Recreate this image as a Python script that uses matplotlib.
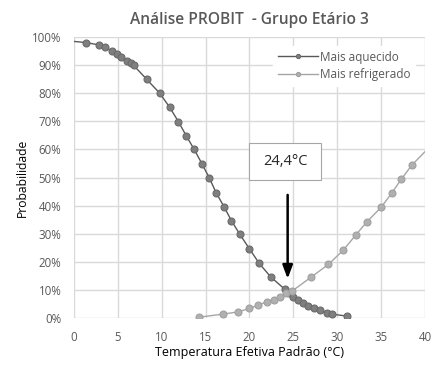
import matplotlib
matplotlib.use("Agg")
import matplotlib.pyplot as plt
from matplotlib.patches import Rectangle
from matplotlib.ticker import PercentFormatter

plt.rcParams['font.family'] = ['Open Sans', 'DejaVu Sans']

title = "Análise PROBIT  - Grupo Etário 3"
xlabel = "Temperatura Efetiva Padrão (°C)"
ylabel = "Probabilidade"
series_names = ["Mais aquecido", "Mais refrigerado"]

aq_x = [-1, 1.4, 2.8, 3.5, 4.3, 4.9, 5.4, 6.0, 6.5, 6.8, 8.3, 9.8, 10.9, 11.9, 12.8,
        13.7, 14.6, 15.4, 16.2, 17.1, 17.95, 18.9, 20.0, 21.1, 22.4, 24.0, 24.5,
        25.0, 25.5, 26.1, 26.7, 27.3, 28.0, 28.8, 29.4, 31.1]
aq_y = [98.7, 98.0, 97.2, 96.3, 95.1, 94.0, 92.8, 91.6, 90.6, 89.9, 84.9, 79.9, 75.0,
        69.9, 64.8, 60.0, 54.8, 50.0, 44.6, 39.6, 34.6, 29.8, 24.6, 19.5, 14.7, 10.3,
        8.8, 7.6, 6.6, 5.4, 4.4, 3.5, 2.7, 1.9, 1.4, 0.7]

rf_x = [14.2, 17.0, 18.7, 20.0, 21.0, 22.0, 22.8, 23.5, 24.2, 24.9, 27.0, 29.0, 30.7,
        32.1, 33.4, 35.0, 36.2, 37.3, 38.5, 41.5]
rf_y = [0.3, 1.4, 2.2, 3.4, 4.6, 5.8, 6.6, 7.6, 8.8, 9.7, 14.5, 19.1, 24.2, 29.5,
        34.3, 39.4, 44.4, 49.4, 54.4, 64.0]

annot_text = "24,4°C"
annot_x = 24.4

fig = plt.figure(figsize=(4.35, 3.66), dpi=100)
ax = fig.add_axes([0.170, 0.131, 0.807, 0.768])

ax.plot(aq_x, aq_y, '-o', color='#595959', lw=1.0, ms=5,
        mfc='#7f7f7f', mec='#6a6a6a', mew=0.8, label=series_names[0], zorder=3)
ax.plot(rf_x, rf_y, '-o', color='#a6a6a6', lw=1.0, ms=5,
        mfc='#b0b0b0', mec='#a0a0a0', mew=0.8, label=series_names[1], zorder=3)

ax.set_xlim(0, 40)
ax.set_ylim(0, 100)
ax.set_xticks(range(0, 41, 5))
ax.set_yticks(range(0, 101, 10))
ax.yaxis.set_major_formatter(PercentFormatter(decimals=0))
ax.grid(True, color='#d9d9d9', lw=1.0)
ax.set_axisbelow(True)
for s in ax.spines.values():
    s.set_visible(False)
ax.tick_params(length=0, labelsize=8.3, colors='#595959')
ax.tick_params(axis='x', pad=9)
ax.tick_params(axis='y', pad=9)

ax.set_title(title, fontsize=11.2, fontweight='semibold', color='#595959', pad=9)
ax.set_xlabel(xlabel, fontsize=9, color='#000000', labelpad=2)
ax.set_ylabel(ylabel, fontsize=8.7, color='#000000', labelpad=2)

leg = ax.legend(loc='upper right', frameon=True, fontsize=8.5, handlelength=3.4,
                borderaxespad=0.4, labelspacing=0.4, handletextpad=0.15,
                markerscale=0.6, bbox_to_anchor=(0.985, 0.985))
leg.get_frame().set_edgecolor('white')
leg.get_frame().set_facecolor('white')
leg.get_frame().set_alpha(1)
for t in leg.get_texts():
    t.set_color('#595959')

rect = Rectangle((20.0, 49.2), 8.2, 13.2, facecolor='white', edgecolor='#a6a6a6',
                 lw=0.8, zorder=4)
ax.add_patch(rect)
ax.text(24.1, 55.8, annot_text, ha='center', va='center', fontsize=10.5,
        color='#262626', zorder=5)
ax.annotate('', xy=(annot_x - 0.05, 13.0), xytext=(annot_x - 0.05, 44.8),
            arrowprops=dict(arrowstyle='-|>,head_width=0.3,head_length=0.8',
                            color='black', lw=1.8), zorder=6)

fig.savefig('out.png', dpi=100)
